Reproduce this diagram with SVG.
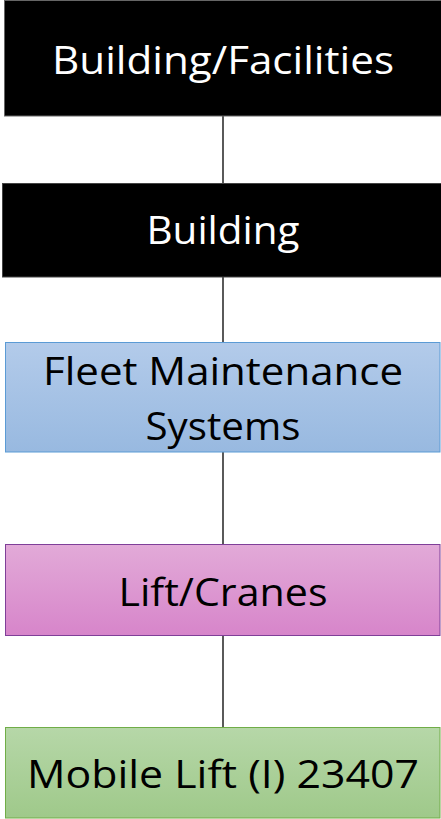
<svg xmlns="http://www.w3.org/2000/svg" width="441" height="819" viewBox="0 0 441 819">
<style>
.lbl{font-family:"Open Sans","Liberation Sans",sans-serif;font-size:38px;text-anchor:middle}
.w{fill:#ffffff}
.k{fill:#000000}
.conn{stroke:#000000;stroke-width:1.3;fill:none}
</style>
<defs>
<linearGradient id="gBlue" x1="0" y1="0" x2="0" y2="1"><stop offset="0" stop-color="#b3cbea"/><stop offset="1" stop-color="#98b9e0"/></linearGradient>
<linearGradient id="gPink" x1="0" y1="0" x2="0" y2="1"><stop offset="0" stop-color="#e2aad8"/><stop offset="1" stop-color="#d785ca"/></linearGradient>
<linearGradient id="gGreen" x1="0" y1="0" x2="0" y2="1"><stop offset="0" stop-color="#b6d7a8"/><stop offset="1" stop-color="#9fc98a"/></linearGradient>
</defs>
<g id="connectors">
<line class="conn" x1="223" y1="116" x2="223" y2="184"/>
<line class="conn" x1="223" y1="277" x2="223" y2="343"/>
<line class="conn" x1="223" y1="452" x2="223" y2="545"/>
<line class="conn" x1="223" y1="636" x2="223" y2="728"/>
</g>
<g id="n1">
<rect x="4.5" y="0.5" width="437" height="115.5" fill="#000000" stroke="#666666" stroke-width="1"/>
<text class="lbl w" x="223" y="74" textLength="342" lengthAdjust="spacingAndGlyphs">Building/Facilities</text>
</g>
<g id="n2">
<rect x="2.5" y="183.5" width="439" height="93.5" fill="#000000" stroke="#444444" stroke-width="1"/>
<text class="lbl w" x="223" y="244" textLength="153" lengthAdjust="spacingAndGlyphs">Building</text>
</g>
<g id="n3">
<rect x="5.5" y="342.5" width="434.5" height="109.5" fill="url(#gBlue)" stroke="#5b9bd5" stroke-width="1"/>
<text class="lbl k" x="223" y="385" textLength="360" lengthAdjust="spacingAndGlyphs">Fleet Maintenance</text>
<text class="lbl k" x="223" y="440" textLength="155" lengthAdjust="spacingAndGlyphs">Systems</text>
</g>
<g id="n4">
<rect x="5.5" y="544.5" width="434.5" height="91" fill="url(#gPink)" stroke="#7f3f98" stroke-width="1"/>
<text class="lbl k" x="223" y="606" textLength="209" lengthAdjust="spacingAndGlyphs">Lift/Cranes</text>
</g>
<g id="n5">
<rect x="5.5" y="727.5" width="434.5" height="90.5" fill="url(#gGreen)" stroke="#70ad47" stroke-width="1"/>
<text class="lbl k" x="223" y="788" textLength="392" lengthAdjust="spacingAndGlyphs">Mobile Lift (I) 23407</text>
</g>
</svg>
